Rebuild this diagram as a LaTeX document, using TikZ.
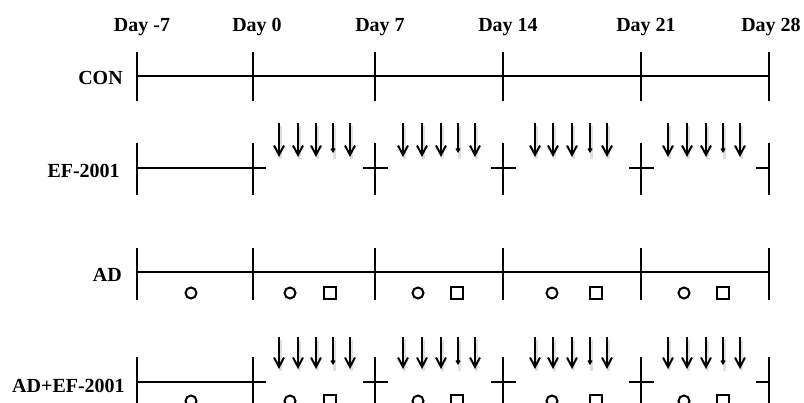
\documentclass[tikz,border=0pt]{standalone}
\usepackage{fontspec}
\setmainfont{Liberation Serif}
\usetikzlibrary{arrows.meta}
\begin{document}
\begin{tikzpicture}[x=0.75pt,y=-0.75pt,
  lbl/.style={font=\bfseries\fontsize{15}{18}\selectfont, inner sep=0pt},
  axis/.style={line width=1.6pt, line cap=butt},
  dose/.style={line width=1.5pt, -{Straight Barb[length=7pt,width=7.5pt,line width=1.5pt]}},
  weakdose/.style={line width=1.5pt, -{Straight Barb[length=2pt,width=2.5pt,line width=1.5pt]}},
  doseshadow/.style={line width=2.4pt, draw=black!20, opacity=0.6},
  probe/.style={line width=1.5pt},
]
\useasboundingbox (0,0) rectangle (804,403);
\clip (0,0) rectangle (804,403);

% day headings
\foreach \x/\t [count=\i] in {142/-7,257/0,380/7,508/14,646/21,771/28}
  \node[lbl, anchor=base] (day\i) at (\x,32) {Day \t};

% group labels
\node[lbl, anchor=base east] (con) at (123,85) {CON};
\node[lbl, anchor=base east] (ef) at (120,177) {EF-2001};
\node[lbl, anchor=base east] (ad) at (122,281) {AD};
\node[lbl, anchor=base east] (adef) at (125,392) {AD+EF-2001};

% CON: continuous timeline
\draw[axis] (137,76) -- (769,76);
\foreach \x in {137,253,375,503,641,769}
  \draw[axis] (\x,52) -- (\x,101);

% AD: continuous timeline
\draw[axis] (137,272) -- (769,272);
\foreach \x in {137,253,375,503,641,769}
  \draw[axis] (\x,248) -- (\x,300);

% EF-2001 and AD+EF-2001: timeline broken by dosing weeks
\foreach \y in {168,382} {
  \draw[axis] (137,\y) -- (266,\y);
  \draw[axis] (137,\y-25) -- (137,\y+27);
  \draw[axis] (253,\y-25) -- (253,\y+27);
  \foreach \x in {375,503,641} {
    \draw[axis] (\x-12,\y) -- (\x+13,\y);
    \draw[axis] (\x,\y-25) -- (\x,\y+27);
  }
  \draw[axis] (756,\y) -- (769,\y);
  \draw[axis] (769,\y-25) -- (769,\y+27);
}

% daily doses (five per week)
\foreach \ya/\yb in {123/157,337/369} {
  \foreach \a/\b/\c/\d/\e in {279/298/316/333/350, 403/422/441/458/475,
                              535/553/572/590/607, 668/687/706/723/740} {
    \foreach \x in {\a,\b,\c,\d,\e}
      \draw[doseshadow] (\x+1.5,\ya+3) -- (\x+1.5,\yb+2);
    \foreach \x in {\a,\b,\c,\e}
      \draw[dose] (\x,\ya) -- (\x,\yb);
    \draw[weakdose] (\d,\ya) -- (\d,\yb-4);
  }
}

% tests: circles and squares below the line
\foreach \y in {293,401} {
  \draw[probe] (191,\y) circle (5.5);
  \foreach \c/\s in {290/330,418/457,552/596,684/723} {
    \draw[probe] (\c,\y) circle (5.5);
    \draw[probe] (\s-6,\y-6) rectangle (\s+6,\y+6);
  }
}
\end{tikzpicture}
\end{document}
